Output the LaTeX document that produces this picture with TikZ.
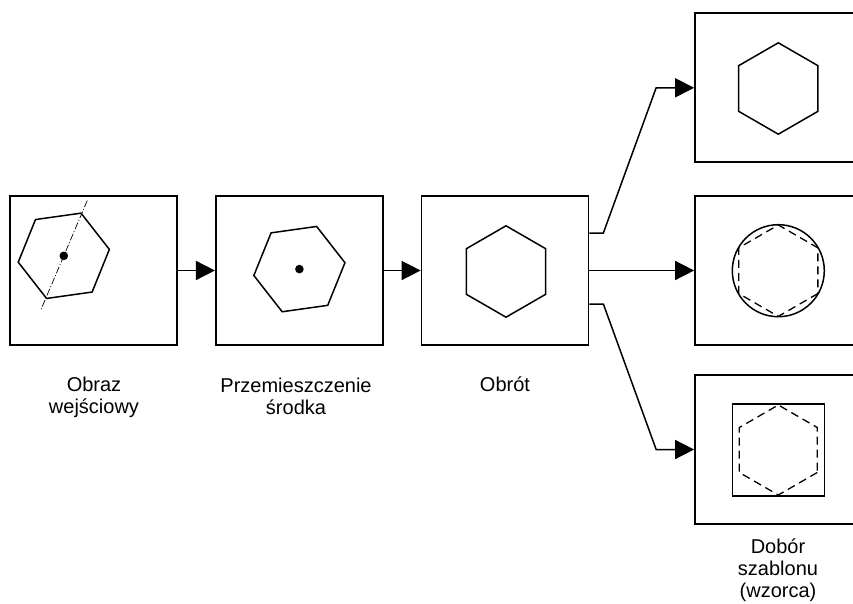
\documentclass[tikz,border=0pt]{standalone}
\usepackage{fontspec}
\setmainfont{Liberation Sans}
\usetikzlibrary{arrows.meta}
\begin{document}
\begin{tikzpicture}[x=1pt,y=-1pt,
  panel/.style={draw, line width=1.7pt, minimum width=167pt, minimum height=149pt, inner sep=0pt},
  shapeline/.style={line width=1.5pt, line join=miter},
  dashline/.style={line width=1.3pt, dash pattern=on 8pt off 5pt},
  axisline/.style={line width=0.7pt, dash pattern=on 7pt off 2pt on 1pt off 2pt},
  flow/.style={line width=1.5pt, -{Triangle[length=19pt,width=19pt]}},
  caption/.style={align=center, anchor=north, inner sep=0pt, font=\fontsize{20}{22}\selectfont}]
\clip (0,0) rectangle (853,604);

% processing stages
\node[panel] (b1) at (93.8,270.5) {};
\node[panel] (b2) at (299.3,270.5) {};
\node[panel] (b3) at (505,270.5) {};
% template candidates (run past the right margin)
\node[panel] (r1) at (778.5,87.8) {};
\node[panel] (r2) at (778.5,270.5) {};
\node[panel] (r3) at (778.5,449.5) {};

% input image: tilted hexagon, centroid and principal axis
\draw[shapeline, shift={(63.8,255.8)}]
  (-8:46) -- (52:46) -- (112:46) -- (172:46) -- (232:46) -- (292:46) -- cycle;
\draw[axisline, shift={(63.8,255.8)}] (-67:60) -- (113:58);
\fill (63.8,255.8) circle[radius=4.3];

% centred hexagon
\draw[shapeline, shift={(299.4,269.1)}]
  (-8:46) -- (52:46) -- (112:46) -- (172:46) -- (232:46) -- (292:46) -- cycle;
\fill (299.4,269.1) circle[radius=4.3];

% rotated hexagon
\draw[shapeline, shift={(506,271.5)}]
  (30:45.7) -- (90:45.7) -- (150:45.7) -- (210:45.7) -- (270:45.7) -- (330:45.7) -- cycle;

% candidate 1: hexagon
\draw[shapeline, shift={(778.3,88.5)}]
  (30:45.7) -- (90:45.7) -- (150:45.7) -- (210:45.7) -- (270:45.7) -- (330:45.7) -- cycle;

% candidate 2: circle around dashed hexagon
\draw[shapeline] (778.3,270.7) circle[radius=46];
\draw[dashline, shift={(778.3,270.7)}]
  (30:45.7) -- (90:45.7) -- (150:45.7) -- (210:45.7) -- (270:45.7) -- (330:45.7) -- cycle;

% candidate 3: square around dashed hexagon
\draw[shapeline] (732.3,404) rectangle (824.3,496);
\draw[dashline, shift={(778.3,450)}]
  (30:45) -- (90:45) -- (150:45) -- (210:45) -- (270:45) -- (330:45) -- cycle;

% connectors
\draw[flow] (b1) -- (b2);
\draw[flow] (b2) -- (b3);
\draw[flow] (b3) -- (r2);
\draw[flow] ([yshift=37.5pt]b3.east) -- ++(14,0) -- ([xshift=-38pt]r1.west) -- (r1.west);
\draw[flow] ([yshift=-33.5pt]b3.east) -- ++(14,0) -- ([xshift=-38pt]r3.west) -- (r3.west);

% captions
\node[caption] (c1) at (94,377) {Obraz\\wejściowy};
\node[caption] (c2) at (296,378) {Przemieszczenie\\środka};
\node[caption] (c3) at (505,377) {Obrót};
\node[caption] (c4) at (778,539) {Dobór\\szablonu\\(wzorca)};
\end{tikzpicture}
\end{document}
